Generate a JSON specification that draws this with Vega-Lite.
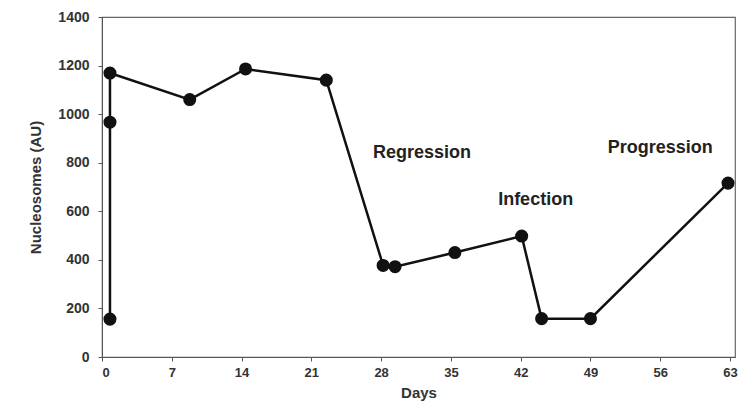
{
  "$schema": "https://vega.github.io/schema/vega-lite/v6.json",
  "autosize": {"type": "none"},
  "padding": {"left": 102, "top": 17, "right": 5, "bottom": 62},
  "width": 633,
  "height": 340,
  "config": {
    "view": {"stroke": "#666", "strokeWidth": 1.2},
    "font": "Liberation Sans",
    "axis": {
      "grid": false,
      "domainColor": "#555",
      "tickColor": "#555",
      "labelFont": "Liberation Sans",
      "labelFontWeight": "bold",
      "labelFontSize": 13,
      "labelColor": "#333",
      "titleFont": "Liberation Sans",
      "titleFontWeight": "bold",
      "titleFontSize": 15,
      "titleColor": "#333"
    }
  },
  "datasets": {
    "points": [
      {"order": 1, "day": 0.8, "value": 156},
      {"order": 2, "day": 0.8, "value": 967},
      {"order": 3, "day": 0.8, "value": 1169},
      {"order": 4, "day": 8.8, "value": 1060},
      {"order": 5, "day": 14.4, "value": 1186},
      {"order": 6, "day": 22.5, "value": 1140},
      {"order": 7, "day": 28.2, "value": 377},
      {"order": 8, "day": 29.4, "value": 372},
      {"order": 9, "day": 35.4, "value": 430},
      {"order": 10, "day": 42.1, "value": 498},
      {"order": 11, "day": 44.1, "value": 158},
      {"order": 12, "day": 49.0, "value": 158},
      {"order": 13, "day": 62.8, "value": 716}
    ],
    "labels": [
      {"day": 32.1, "value": 840, "text": "Regression"},
      {"day": 43.5, "value": 648, "text": "Infection"},
      {"day": 56.0, "value": 860, "text": "Progression"}
    ]
  },
  "layer": [
    {
      "data": {"name": "points"},
      "mark": {"type": "line", "color": "#111", "strokeWidth": 2.5},
      "encoding": {
        "x": {"field": "day", "type": "quantitative", "scale": {"domain": [0, 63.5], "nice": false},
              "axis": {"values": [0, 7, 14, 21, 28, 35, 42, 49, 56, 63], "title": "Days", "tickSize": 4, "labelPadding": 5, "titlePadding": 6}},
        "y": {"field": "value", "type": "quantitative", "scale": {"domain": [0, 1400], "nice": false},
              "axis": {"values": [0, 200, 400, 600, 800, 1000, 1200, 1400], "format": "d", "title": "Nucleosomes (AU)", "titleFontSize": 15, "labelFontSize": 14, "tickSize": 4, "labelPadding": 9, "titlePadding": 14}},
        "order": {"field": "order", "type": "quantitative"}
      }
    },
    {
      "data": {"name": "points"},
      "mark": {"type": "point", "filled": true, "color": "#111", "size": 170, "opacity": 1},
      "encoding": {
        "x": {"field": "day", "type": "quantitative"},
        "y": {"field": "value", "type": "quantitative"}
      }
    },
    {
      "data": {"name": "labels"},
      "mark": {"type": "text", "font": "Liberation Sans", "fontWeight": "bold", "fontSize": 18, "color": "#222"},
      "encoding": {
        "x": {"field": "day", "type": "quantitative"},
        "y": {"field": "value", "type": "quantitative"},
        "text": {"field": "text"}
      }
    }
  ]
}
